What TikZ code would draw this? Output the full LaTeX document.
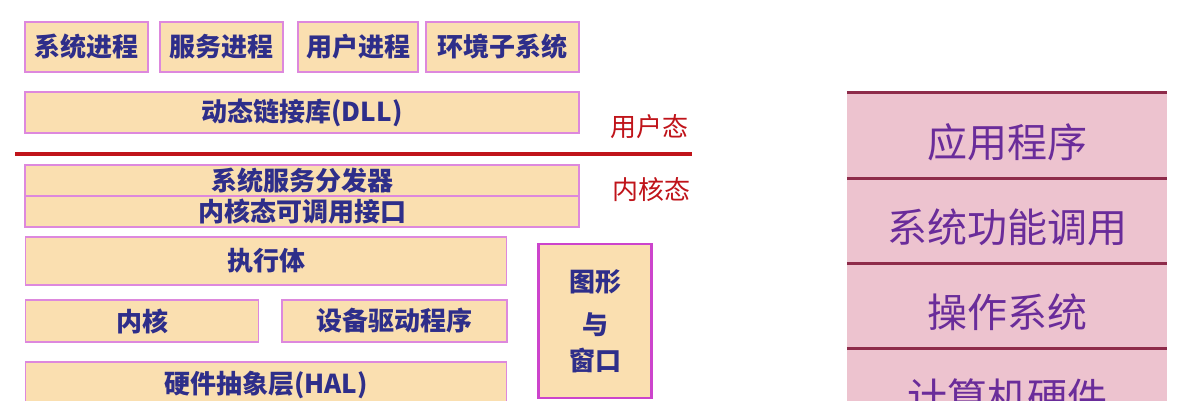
\documentclass[tikz,border=0pt]{standalone}
\usepackage{fontspec}
\newfontfamily\cjk{Noto Sans CJK SC}
\definecolor{boxfill}{HTML}{FADFB0}
\definecolor{boxline}{HTML}{DD88DD}
\definecolor{gdiline}{HTML}{CC44CC}
\definecolor{navytext}{HTML}{2E2E8A}
\definecolor{modered}{HTML}{C0141A}
\definecolor{stackfill}{HTML}{EDC3CF}
\definecolor{stackline}{HTML}{8E2B4A}
\definecolor{stacktext}{HTML}{6A2C9A}
\tikzset{
  layer/.style={draw=boxline, line width=1.8pt, fill=boxfill, text=navytext,
    inner sep=0pt, font=\cjk\bfseries\fontsize{26}{26}\selectfont},
  modelabel/.style={text=modered, font=\cjk\fontsize{26}{26}\selectfont},
  stackrow/.style={fill=stackfill, inner sep=0pt, minimum width=320, minimum height=85,
    text height=48pt, text depth=5pt,
    text=stacktext, font=\cjk\fontsize{40}{40}\selectfont}
}
\begin{document}
\begin{tikzpicture}[x=1pt, y=-1pt]
  \clip (0,0) rectangle (1183,400);
  \fill[white] (0,0) rectangle (1183,400);

  \node (SysProc) [layer, minimum width=123, minimum height=50] at (86.5, 47) {系统进程};
  \node (ServProc) [layer, minimum width=123, minimum height=50] at (221.5, 47) {服务进程};
  \node (UserProc) [layer, minimum width=120, minimum height=50] at (358, 47) {用户进程};
  \node (EnvSub) [layer, minimum width=153, minimum height=50] at (502.5, 47) {环境子系统};

  \node (DLL) [layer, minimum width=554, minimum height=41] at (302, 112.5) {动态链接库(DLL)};

  \coordinate (DivLeft) at (15, 154);
  \coordinate (DivRight) at (692, 154);
  \draw [modered, line width=4pt] (DivLeft) -- (DivRight);
  \node (UserMode) [modelabel] at (649, 127) {用户态};
  \node (KernelMode) [modelabel] at (651, 190) {内核态};

  \node (Dispatch) [layer, minimum width=554, minimum height=31] at (302, 180.5) {系统服务分发器};
  \node (KernelApi) [layer, minimum width=554, minimum height=31] at (302, 211.5) {内核态可调用接口};

  \node (Exec) [layer, minimum width=481, minimum height=48] at (266, 261) {执行体};
  \node (Kernel) [layer, minimum width=233, minimum height=42] at (142, 321) {内核};
  \node (Driver) [layer, minimum width=225, minimum height=42] at (394.5, 321) {设备驱动程序};
  \node (HAL) [layer, minimum width=481, minimum height=46] at (266, 385) {硬件抽象层(HAL)};

  \node (GDI) [layer, draw=gdiline, line width=2.6pt, minimum width=113, minimum height=154,
    align=center] at (595, 321) {图形\\[17pt]与\\[10pt]窗口};

  \node (App) [stackrow] at (1007, 135.5) {应用程序};
  \node (SysCall) [stackrow] at (1007, 220.5) {系统功能调用};
  \node (OS) [stackrow] at (1007, 305.5) {操作系统};
  \node (HW) [stackrow] at (1007, 390.5) {计算机硬件};
  \draw [stackline, line width=3pt] (App.north west) -- (App.north east);
  \draw [stackline, line width=3pt] (App.south west) -- (App.south east);
  \draw [stackline, line width=3pt] (SysCall.south west) -- (SysCall.south east);
  \draw [stackline, line width=3pt] (OS.south west) -- (OS.south east);
\end{tikzpicture}
\end{document}
